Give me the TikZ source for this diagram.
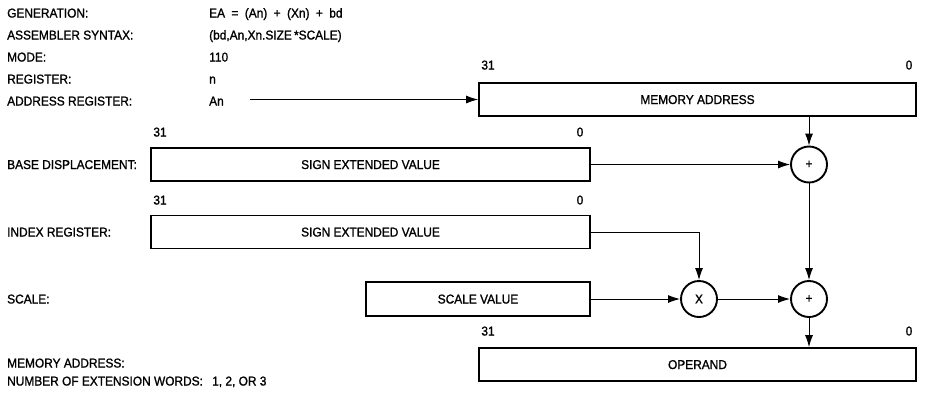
\documentclass[tikz,border=0pt]{standalone}
\usepackage{fontspec}
\setmainfont{Liberation Sans}[FakeStretch=0.93,FakeBold=1.2]
\usetikzlibrary{arrows.meta}
\begin{document}
\begin{tikzpicture}[x=1pt,y=-1pt,
  every node/.style={font=\fontsize{12.8pt}{14pt}\selectfont, inner sep=0pt},
  lab/.style={anchor=west, text height=9pt, text depth=0pt},
  num/.style={text height=9pt, text depth=0pt},
  regbox/.style={draw, line width=1.7pt, minimum height=33pt, text height=9pt, text depth=0pt},
  opcirc/.style={draw, circle, line width=1.9pt, minimum size=36pt},
  conn/.style={line width=1pt, -{Latex[length=12pt,width=8pt]}}]
\useasboundingbox (0,0) rectangle (925,397);
% header labels
\node[lab] (gen) at (7,13) {GENERATION:};
\node[lab] (asm) at (7,35) {ASSEMBLER SYNTAX:};
\node[lab] (mode) at (7,57) {MODE:};
\node[lab] (reg) at (7,79) {REGISTER:};
\node[lab] (areg) at (7,101) {ADDRESS REGISTER:};
\node[lab] (genv) at (209,13) {EA\enspace=\enspace(An)\enspace+\enspace(Xn)\enspace+\enspace bd};
\node[lab] (asmv) at (209,35) {(bd,An,Xn.SIZE\,*SCALE)};
\node[lab] (modev) at (209,57) {110};
\node[lab] (regv) at (209,79) {n};
\node[lab] (aregv) at (209,101) {An};
\node[lab] (bdl) at (7,164.5) {BASE DISPLACEMENT:};
\node[lab] (irl) at (7,232) {INDEX REGISTER:};
\node[lab] (scl) at (7,299) {SCALE:};
\node[lab] (mal) at (7,363) {MEMORY ADDRESS:};
\node[lab] (nel) at (7,381) {NUMBER OF EXTENSION WORDS:};
\node[lab] (nev) at (212,381) {1, 2, OR 3};
% boxes
\node[regbox, minimum width=437pt] (ma) at (697.5,99.5) {MEMORY ADDRESS};
\node[regbox, minimum width=439pt] (bd) at (370.5,164.5) {SIGN EXTENDED VALUE};
\node[regbox, minimum width=439pt] (ir) at (370.5,232) {SIGN EXTENDED VALUE};
\node[regbox, minimum width=224pt, minimum height=34pt] (sv) at (478,299) {SCALE VALUE};
\node[regbox, minimum width=437pt] (op) at (697.5,364.5) {OPERAND};
% bit numbers
\node[num] (ma31) at (488,65) {31};
\node[num] (ma0) at (909,65) {0};
\node[num] (bd31) at (160,132) {31};
\node[num] (bd0) at (580,132) {0};
\node[num] (ir31) at (160,200) {31};
\node[num] (ir0) at (580,200) {0};
\node[num] (op31) at (488,331) {31};
\node[num] (op0) at (909,331) {0};
% operators
\node[opcirc] (p1) at (809,164.5) {+};
\node[opcirc] (mx) at (699,299) {X};
\node[opcirc] (p2) at (809,299) {+};
% connectors
\coordinate (anstart) at (250,99.5);
\draw[conn] (anstart) -- (ma.west);
\draw[conn] (p1 |- ma.south) -- (p1.north);
\draw[conn] (bd.east) -- (p1.west);
\draw[conn] (p1.south) -- (p2.north);
\draw[conn] (ir.east) -| (mx.north);
\draw[conn] (sv.east) -- (mx.west);
\draw[conn] (mx.east) -- (p2.west);
\draw[conn] (p2.south) -- (p2 |- op.north);
\end{tikzpicture}
\end{document}
